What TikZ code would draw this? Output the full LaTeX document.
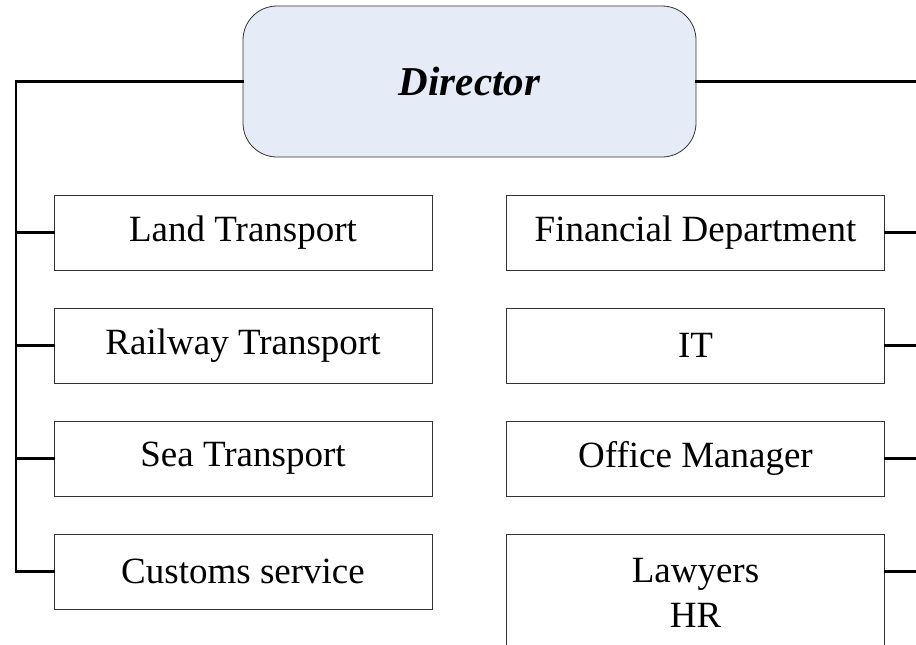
\documentclass[tikz,border=0pt]{standalone}
\usepackage{fontspec}
\setmainfont{Liberation Serif}
\usepackage{tikz}
\usetikzlibrary{calc,positioning}

\definecolor{headfill}{RGB}{230,236,247}
\newcommand{\unitfont}{\fontsize{37}{45}\selectfont}
\newcommand{\headfont}{\fontsize{41}{48}\selectfont\bfseries\itshape}

\begin{document}
\begin{tikzpicture}

  \tikzstyle{headnode}=[draw=black!80,rectangle,rounded corners=34pt,fill=headfill,line width=0.8pt,minimum width=453pt,minimum height=151pt,inner sep=0pt,font=\headfont]
  \tikzstyle{unitnode}=[draw=black!80,rectangle,line width=0.8pt,minimum width=378pt,minimum height=75pt,inner sep=0pt,node distance=113pt,font=\unitfont,align=center]
  \tikzstyle{wire}=[draw,line width=2.4pt,line cap=rect]

  \useasboundingbox (0pt,0pt) rectangle (916pt,-645pt);

  % nodes
  \node[headnode] (dir) at (469.5pt,-81.5pt) {Director};

  \node[unitnode] (land) at (243pt,-232.5pt) {Land Transport};
  \node[unitnode] (rail) [below of=land] {Railway Transport};
  \node[unitnode] (sea) [below of=rail] {Sea Transport};
  \node[unitnode] (customs) [below of=sea] {Customs service};

  \node[unitnode] (fin) at (695.5pt,-232.5pt) {Financial Department};
  \node[unitnode] (it) [below of=fin] {IT};
  \node[unitnode] (office) [below of=it] {Office Manager};
  \node[unitnode,minimum height=116pt,anchor=north] (legal) at (office.south |- 0pt,-534pt) {Lawyers\\HR};

  \coordinate (lbus) at (16pt,0pt);
  \coordinate (rbus) at (920pt,0pt);

  % lines
  \draw[wire] (dir.west) -| (lbus |- customs.west) -- (customs.west);
  \draw[wire] (lbus |- land.west)   -- (land.west);
  \draw[wire] (lbus |- rail.west)   -- (rail.west);
  \draw[wire] (lbus |- sea.west)    -- (sea.west);

  \draw[wire] (dir.east)    -- (rbus |- dir.east);
  \draw[wire] (fin.east)    -- (rbus |- fin.east);
  \draw[wire] (it.east)     -- (rbus |- it.east);
  \draw[wire] (office.east) -- (rbus |- office.east);
  \draw[wire] (legal.east |- customs.east) -- (rbus |- customs.east);

\end{tikzpicture}
\end{document}
